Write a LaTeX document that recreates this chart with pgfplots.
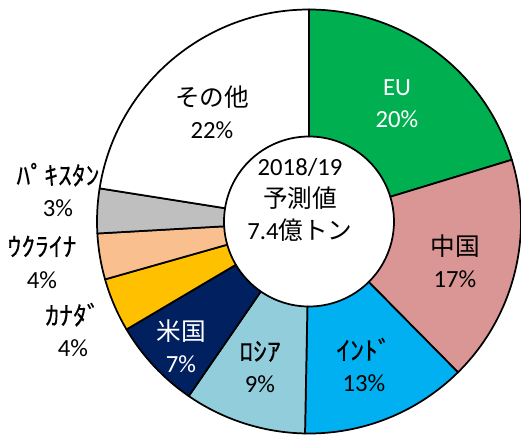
\documentclass[border=0pt]{standalone}
\usepackage{fontspec}
\setmainfont{Carlito}
\newfontfamily\jp{Noto Sans CJK JP}
\usepackage{pgfplots}
\pgfplotsset{compat=1.18}
\usepackage{pgfplotstable}

\definecolor{slice0}{HTML}{00B050}
\definecolor{slice1}{HTML}{DA9694}
\definecolor{slice2}{HTML}{00B0F0}
\definecolor{slice3}{HTML}{92CDDC}
\definecolor{slice4}{HTML}{002060}
\definecolor{slice5}{HTML}{FFC000}
\definecolor{slice6}{HTML}{FABF8F}
\definecolor{slice7}{HTML}{BFBFBF}
\definecolor{slice8}{HTML}{FFFFFF}

% share of 2018/19 forecast (percent), clockwise from top
\pgfplotstableread{
region   share
EU       20.3
China    17.3
India    12.7
Russia    9.3
USA       6.9
Canada    4.1
Ukraine   3.5
Pakistan  3.4
Other    22.5
}\shares

\def\cx{309}
\def\cy{215.5}
\def\R{212}
\def\r{85}

\begin{document}
\begin{tikzpicture}
\useasboundingbox (0,0) rectangle (390.75pt,327.75pt);
\begin{axis}[
  at={(0,0)}, anchor=origin,
  x=0.75pt, y=0.75pt,
  xmin=0, xmax=521, ymin=0, ymax=437,
  hide axis,
  clip=true,
]
\def\cum{0}
\pgfplotsforeachungrouped \i in {0,...,8}{
  \pgfplotstablegetelem{\i}{share}\of\shares
  \pgfmathsetmacro\va{90-3.6*\cum}
  \pgfmathsetmacro\cum{\cum+\pgfplotsretval}
  \pgfmathsetmacro\vb{90-3.6*\cum}
  \pgfmathsetmacro\Rpt{0.75*\R}
  \pgfmathsetmacro\rpt{0.75*\r}
  \edef\slice{\noexpand\filldraw[fill=slice\i, draw=black, line width=1.3pt, line join=round]
    (axis cs:{\cx+\R*cos(\va)},{\cy+\R*sin(\va)})
    arc[start angle=\va, end angle=\vb, radius=\Rpt pt]
    -- (axis cs:{\cx+\r*cos(\vb)},{\cy+\r*sin(\vb)})
    arc[start angle=\vb, end angle=\va, radius=\rpt pt] -- cycle;}
  \slice
}
\tikzset{lbl/.style={align=center, font=\fontsize{18.5}{24}\selectfont, inner sep=0pt}}
\newcommand\hk[1]{{\jp\addfontfeature{FakeBold=0.15}\scalebox{1.12}[1.05]{#1}}}
\node[lbl, text=white] at (axis cs:397,333) {EU\\20\%};
\node[lbl] at (axis cs:455,176) {{\jp 中国}\\17\%};
\node[lbl] at (axis cs:364,72) {\hk{ｲﾝﾄﾞ}\\13\%};
\node[lbl] at (axis cs:260,70) {\hk{ﾛｼｱ}\\9\%};
\node[lbl, text=white] at (axis cs:181,91) {{\jp 米国}\\7\%};
\node[lbl] at (axis cs:73,107) {\hk{ｶﾅﾀﾞ}\\4\%};
\node[lbl] at (axis cs:42,175) {\hk{ｳｸﾗｲﾅ}\\4\%};
\node[lbl] at (axis cs:58,247) {\hk{ﾊﾟｷｽﾀﾝ}\\3\%};
\node[lbl] at (axis cs:212,325) {{\jp その他}\\22\%};
\node[lbl] at (axis cs:300,237) {2018/19\\{\jp 予測値}\\7.4{\jp 億トン}};
\end{axis}
\end{tikzpicture}
\end{document}
